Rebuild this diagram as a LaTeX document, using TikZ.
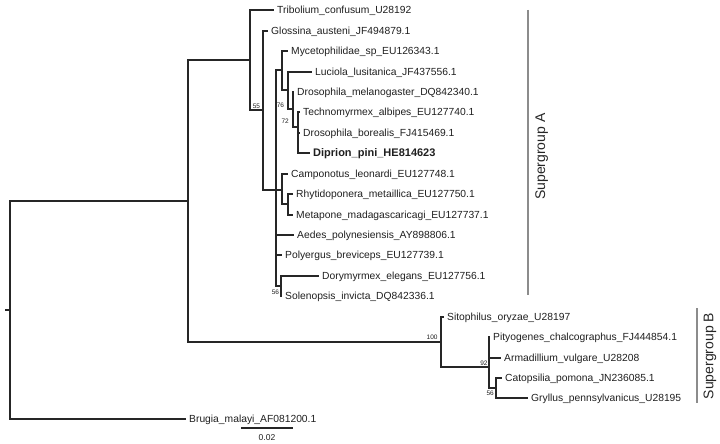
\documentclass[tikz,border=0pt]{standalone}
\usepackage{fontspec}
\setmainfont{Liberation Sans}
\begin{document}
\begin{tikzpicture}[x=1pt,y=-1pt,
    branch/.style={line width=2pt, black!85},
    taxon/.style={anchor=base west, inner sep=0pt, xshift=3pt, yshift=-3.7pt, text=black!88, font=\fontsize{10.3}{12}\selectfont},
    boot/.style={anchor=south east, inner sep=0pt, text=black!88, font=\fontsize{6.5}{8}\selectfont},
    groupbar/.style={line width=2pt, gray!90},
    grouplabel/.style={rotate=90, inner sep=0pt, text=black!85, font=\fontsize{14}{16}\selectfont}]
    \useasboundingbox (0,0) rectangle (720,444);
    % inner nodes
    \coordinate (stub) at (5,310);
    \coordinate (root) at (10,310);
    \coordinate (nAB) at (188,201);
    \coordinate (nA) at (250,60);
    \coordinate (n55) at (263,110);
    \coordinate (nIns) at (276,190);
    \coordinate (nMyc) at (282,70);
    \coordinate (nLuc) at (288,90);
    \coordinate (nDmel) at (293,109);
    \coordinate (nTec) at (298,127);
    \coordinate (nCamp) at (282,190);
    \coordinate (nRhy) at (288,204);
    \coordinate (nSol) at (281,286);
    \coordinate (nB) at (441,342);
    \coordinate (nPit) at (489,367);
    \coordinate (nCat) at (496,388);
    % tips
    \coordinate (tTri) at (274,10);
    \coordinate (tGlo) at (268,31);
    \coordinate (tMyc) at (288,51);
    \coordinate (tLuc) at (312,72);
    \coordinate (tDme) at (294,92);
    \coordinate (tTec) at (300,112);
    \coordinate (tDbo) at (300,133);
    \coordinate (tDip) at (310,153);
    \coordinate (tCam) at (288,174);
    \coordinate (tRhy) at (293,194);
    \coordinate (tMet) at (293,215);
    \coordinate (tAed) at (294,235);
    \coordinate (tPol) at (282,255);
    \coordinate (tDor) at (319,276);
    \coordinate (tSol) at (282,296);
    \coordinate (tSit) at (444,317);
    \coordinate (tPit) at (490,337);
    \coordinate (tArm) at (501,358);
    \coordinate (tCat) at (502,378);
    \coordinate (tGry) at (528,398);
    \coordinate (tBru) at (186,419);

    % branches
    \draw[branch] (stub) -- (root);
    \draw[branch] (root) |- (nAB) (root) |- (tBru);
    \draw[branch] (nAB) |- (nA) (nAB) |- (nB);
    \draw[branch] (nA) |- (tTri) (nA) |- (n55);
    \draw[branch] (n55) |- (tGlo) (n55) |- (nIns);
    \draw[branch] (nIns) |- (nMyc) (nIns) |- (nCamp) (nIns) |- (tAed) (nIns) |- (tPol) (nIns) |- (nSol);
    \draw[branch] (nMyc) |- (tMyc) (nMyc) |- (nLuc);
    \draw[branch] (nLuc) |- (tLuc) (nLuc) |- (nDmel);
    \draw[branch] (nDmel) |- (tDme) (nDmel) |- (nTec);
    \draw[branch] (nTec) |- (tTec) (nTec) |- (tDbo) (nTec) |- (tDip);
    \draw[branch] (nCamp) |- (tCam) (nCamp) |- (nRhy);
    \draw[branch] (nRhy) |- (tRhy) (nRhy) |- (tMet);
    \draw[branch] (nSol) |- (tDor) (nSol) |- (tSol);
    \draw[branch] (nB) |- (tSit) (nB) |- (nPit);
    \draw[branch] (nPit) |- (tPit) (nPit) |- (tArm) (nPit) |- (nCat);
    \draw[branch] (nCat) |- (tCat) (nCat) |- (tGry);

    % taxa
    \node[taxon] (lTri) at (tTri) {Tribolium\_confusum\_U28192};
    \node[taxon] (lGlo) at (tGlo) {Glossina\_austeni\_JF494879.1};
    \node[taxon] (lMyc) at (tMyc) {Mycetophilidae\_sp\_EU126343.1};
    \node[taxon] (lLuc) at (tLuc) {Luciola\_lusitanica\_JF437556.1};
    \node[taxon] (lDme) at (tDme) {Drosophila\_melanogaster\_DQ842340.1};
    \node[taxon] (lTec) at (tTec) {Technomyrmex\_albipes\_EU127740.1};
    \node[taxon] (lDbo) at (tDbo) {Drosophila\_borealis\_FJ415469.1};
    \node[taxon, font=\fontsize{11}{13}\selectfont\bfseries] (lDip) at (tDip) {Diprion\_pini\_HE814623};
    \node[taxon] (lCam) at (tCam) {Camponotus\_leonardi\_EU127748.1};
    \node[taxon] (lRhy) at (tRhy) {Rhytidoponera\_metaillica\_EU127750.1};
    \node[taxon] (lMet) at (tMet) {Metapone\_madagascaricagi\_EU127737.1};
    \node[taxon] (lAed) at (tAed) {Aedes\_polynesiensis\_AY898806.1};
    \node[taxon] (lPol) at (tPol) {Polyergus\_breviceps\_EU127739.1};
    \node[taxon] (lDor) at (tDor) {Dorymyrmex\_elegans\_EU127756.1};
    \node[taxon] (lSol) at (tSol) {Solenopsis\_invicta\_DQ842336.1};
    \node[taxon] (lSit) at (tSit) {Sitophilus\_oryzae\_U28197};
    \node[taxon] (lPit) at (tPit) {Pityogenes\_chalcographus\_FJ444854.1};
    \node[taxon] (lArm) at (tArm) {Armadillium\_vulgare\_U28208};
    \node[taxon] (lCat) at (tCat) {Catopsilia\_pomona\_JN236085.1};
    \node[taxon] (lGry) at (tGry) {Gryllus\_pennsylvanicus\_U28195};
    \node[taxon] (lBru) at (tBru) {Brugia\_malayi\_AF081200.1};

    % bootstrap values
    \node[boot] (b55) at (260.3,108.4) {55};
    \node[boot] (b76) at (284.3,107.4) {76};
    \node[boot] (b72) at (289,123.4) {72};
    \node[boot, anchor=north east] (b56a) at (279.3,289.4) {56};
    \node[boot] (b100) at (437.7,339.9) {100};
    \node[boot] (b92) at (487.7,365.6) {92};
    \node[boot, anchor=north east] (b56b) at (494,391) {56};

    % supergroups
    \coordinate (barAtop) at (528,10);
    \coordinate (barAbot) at (528,295);
    \draw[groupbar] (barAtop) -- (barAbot);
    \node[grouplabel] (grpA) at (541.7,156.7) {Supergroup A};
    \coordinate (barBtop) at (697,308);
    \coordinate (barBbot) at (697,403);
    \draw[groupbar] (barBtop) -- (barBbot);
    \node[grouplabel] (grpB) at (710,356) {Supergroup B};

    % scale
    \coordinate (scaleL) at (241,428);
    \coordinate (scaleR) at (293,428);
    \draw[branch] (scaleL) -- (scaleR);
    \node[inner sep=0pt, text=black!88, font=\fontsize{8.5}{10}\selectfont] (scaleval) at (267,437.3) {0.02};
\end{tikzpicture}
\end{document}
